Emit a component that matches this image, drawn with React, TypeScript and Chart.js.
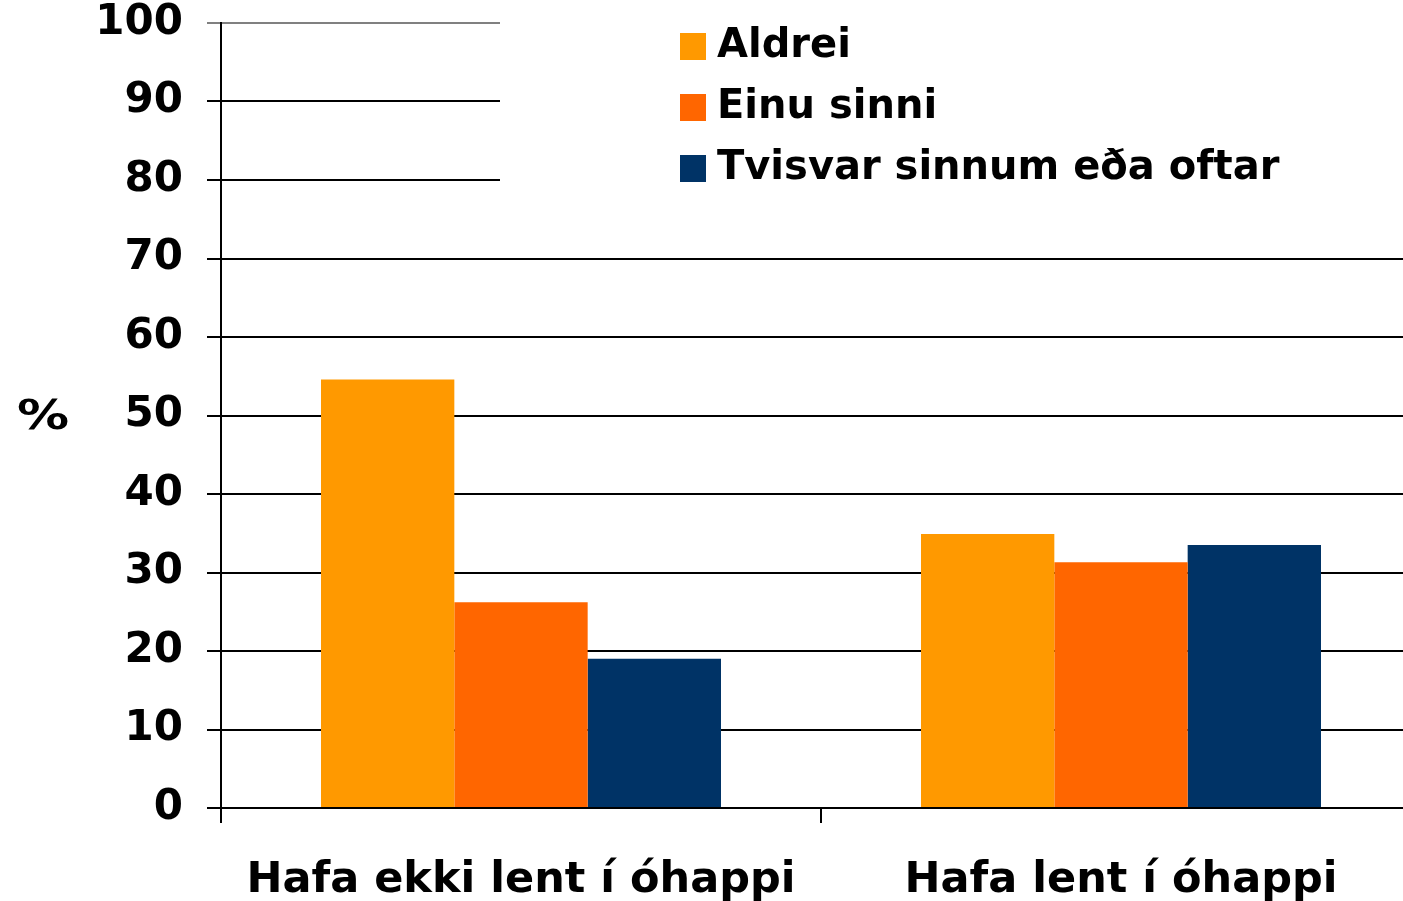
import React, { useEffect, useRef } from "react";
import { Chart, registerables } from "chart.js";

Chart.register(...registerables);

const categories = ["Hafa ekki lent í óhappi", "Hafa lent í óhappi"];
const seriesNames = ["Aldrei", "Einu sinni", "Tvisvar sinnum eða oftar"];
const aldrei = [54.6, 34.9];
const einuSinni = [26.2, 31.3];
const tvisvar = [19.0, 33.5];
const seriesColors = ["#FF9900", "#FF6600", "#003366"];
const yMin = 0;
const yMax = 100;
const yStep = 10;
const yTitle = "%";

const FONT = "'DejaVu Sans', Verdana, sans-serif";

const legendPlugin = {
  id: "boxLegend",
  afterDatasetsDraw(chart: any) {
    const ctx = chart.ctx;
    ctx.save();
    ctx.fillStyle = "#ffffff";
    ctx.fillRect(500, 0, chart.width - 500, 215);
    ctx.font = `bold 40px ${FONT}`;
    ctx.textBaseline = "middle";
    ctx.textAlign = "left";
    chart.data.datasets.forEach((ds: any, i: number) => {
      const top = 33 + i * 61;
      ctx.fillStyle = ds.backgroundColor;
      ctx.fillRect(680, top, 26, 27);
      ctx.fillStyle = "#000000";
      ctx.fillText(ds.label, 717, top + 14);
    });
    // y-axis title, unrotated
    const area = chart.chartArea;
    ctx.translate(43, (area.top + area.bottom) / 2 + 3);
    ctx.scale(1.3, 1);
    ctx.textAlign = "center";
    ctx.fillText(yTitle, 0, 0);
    ctx.restore();
  },
};

export default function App() {
  const ref = useRef<HTMLCanvasElement>(null);
  useEffect(() => {
    if (!ref.current) return;
    const data = [aldrei, einuSinni, tvisvar];
    const chart = new Chart(ref.current, {
      type: "bar",
      data: {
        labels: categories,
        datasets: seriesNames.map((name, i) => ({
          label: name,
          data: data[i],
          backgroundColor: seriesColors[i],
          borderWidth: 0,
          categoryPercentage: 2 / 3,
          barPercentage: 1,
        })),
      },
      plugins: [legendPlugin],
      options: {
        responsive: false,
        animation: false,
        devicePixelRatio: 1,
        layout: { padding: { top: 23, right: 0, left: 0, bottom: 0 } },
        plugins: {
          legend: { display: false },
          tooltip: { enabled: false },
        },
        scales: {
          x: {
            grid: {
              offset: true,
              drawOnChartArea: false,
              drawTicks: true,
              tickLength: 15,
              color: "#000000",
              lineWidth: 2,
            },
            border: { display: true, color: "#000000", width: 2 },
            ticks: {
              color: "#000000",
              font: { family: FONT, size: 43, weight: "bold" },
              padding: 32,
              maxRotation: 0,
            },
            afterFit(scale: any) {
              scale.height = 93;
              scale.paddingLeft = 0;
              scale.paddingRight = 0;
            },
          },
          y: {
            min: yMin,
            max: yMax,
            ticks: {
              stepSize: yStep,
              color: "#000000",
              font: { family: FONT, size: 42, weight: "bold", lineHeight: 1.1 },
              padding: 24,
            },
            grid: {
              color: (c: any) => (c.tick && c.tick.value === yMax ? "#808080" : "#000000"),
              lineWidth: 2,
              tickLength: 14,
            },
            border: { display: true, color: "#000000", width: 2 },
            afterFit(scale: any) {
              scale.width = 221;
              scale.paddingTop = 0;
              scale.paddingBottom = 0;
            },
          },
        },
      },
    });
    return () => chart.destroy();
  }, []);
  return (
    <div style={{ position: "fixed", left: 0, top: 0, width: 1403, height: 901, background: "#fff", overflow: "hidden" }}>
      <canvas ref={ref} width={1421} height={901} style={{ display: "block" }} />
    </div>
  );
}
